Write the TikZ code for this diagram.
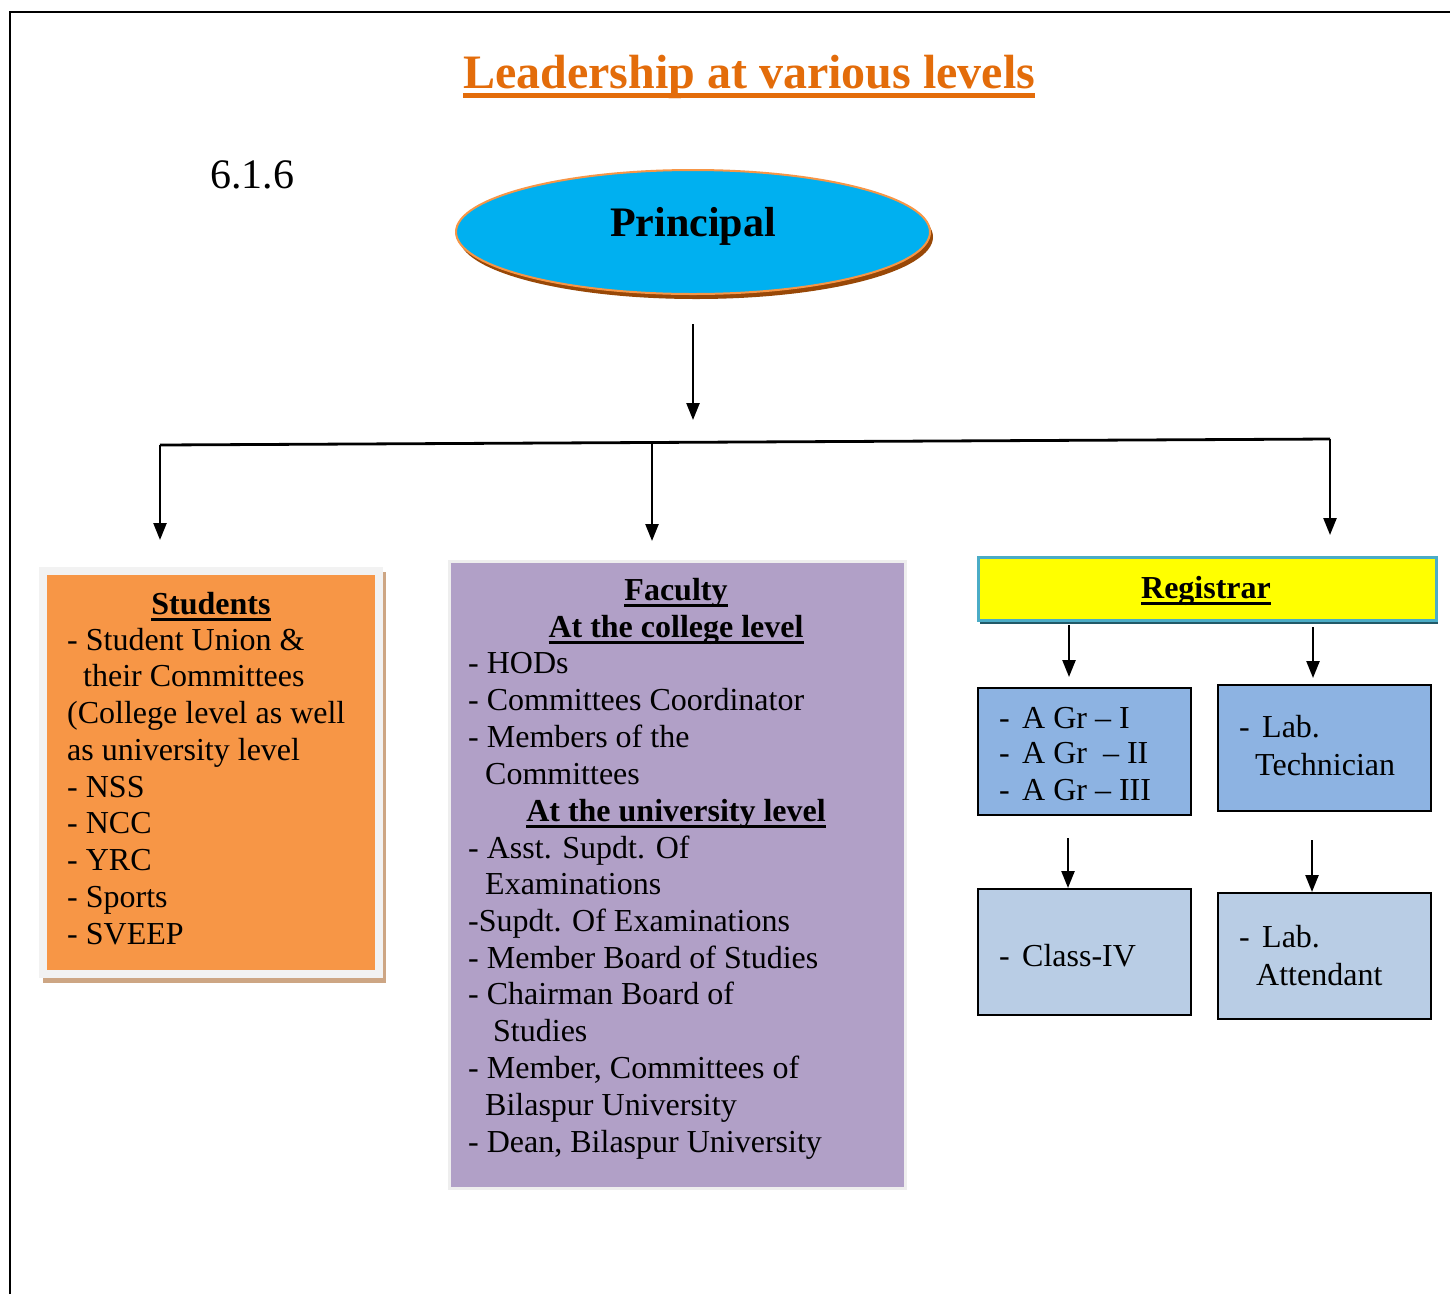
\documentclass[tikz,border=0pt]{standalone}
\usepackage{fontspec}
\setmainfont{Liberation Serif}
\usetikzlibrary{arrows.meta,shapes.geometric}
\definecolor{titleor}{HTML}{E36C0A}
\definecolor{princ}{HTML}{00B0F0}
\definecolor{prinbd}{HTML}{F79646}
\definecolor{prinsh}{HTML}{984807}
\definecolor{stuor}{HTML}{F79646}
\definecolor{stush}{HTML}{CDA684}
\definecolor{stuout}{HTML}{F2F2F2}
\definecolor{facp}{HTML}{B1A0C7}
\definecolor{facbd}{HTML}{EEEEEE}
\definecolor{regy}{HTML}{FFFF00}
\definecolor{regbd}{HTML}{4BACC6}
\definecolor{regsh}{HTML}{215968}
\definecolor{bluA}{HTML}{8DB3E2}
\definecolor{bluB}{HTML}{B9CDE5}
\newcommand\ulx[3]{\leavevmode\setbox0\hbox{#3}\rlap{\vrule height -#1 depth #2 width\wd0}\box0}
\begin{document}
\begin{tikzpicture}[x=1pt,y=-1pt,
  txt/.style={inner sep=0pt, anchor=base west, font=\fontsize{32}{37}\selectfont},
  hd/.style={inner sep=0pt, anchor=base, font=\fontsize{32}{37}\selectfont\bfseries},
  arr/.style={line width=2.4pt, -{Triangle[length=17pt,width=13pt]}},
  bus/.style={line width=2.8pt},
  boxA/.style={draw=black, line width=2pt, anchor=north west, inner sep=0pt, fill=bluA},
  boxB/.style={draw=black, line width=2pt, anchor=north west, inner sep=0pt, fill=bluB},
]
\useasboundingbox (0,0) rectangle (1450,1294);
\fill[white] (0,0) rectangle (1450,1294);
% page frame
\draw[line width=2.5pt] (10,1294) -- (10,12) -- (1450,12);

% title
\node[inner sep=0pt, anchor=base, font=\fontsize{48}{56}\selectfont\bfseries, text=titleor] (title) at (749,88) {\ulx{5pt}{10pt}{Leadership at various levels}};
\node[inner sep=0pt, anchor=base west, font=\fontsize{42}{48}\selectfont] (num) at (210,188) {6.1.6};

% principal
\fill[prinsh] (696,237) ellipse [x radius=237pt, y radius=62pt];
\node[ellipse, fill=princ, draw=prinbd, line width=2pt, minimum width=474pt, minimum height=124pt, inner sep=0pt] (prin) at (693,232) {};
\node[inner sep=0pt, anchor=base, font=\fontsize{42}{48}\selectfont\bfseries] (prinT) at (693,236) {Principal};

% bus
\coordinate (pt) at (693,420);
\coordinate (bl) at (160,445);
\coordinate (bm) at (652,443.5);
\coordinate (br) at (1330,439);

% students box
\fill[stush] (43,572) rectangle (386,983);
\node[anchor=north west, fill=stuout, minimum width=344pt, minimum height=411pt, inner sep=0pt] (stu) at (39,567) {};
\node[anchor=north west, fill=stuor, minimum width=328pt, minimum height=395pt, inner sep=0pt] (stuin) at (47,575) {};
\node[hd] (s0) at (211,614) {\ulx{4pt}{7pt}{Students}};
\node[txt] (s1) at (67,650) {- Student Union \&};
\node[txt] (s2) at (83,686) {their Committees};
\node[txt] (s3) at (67,723) {(College level as well};
\node[txt] (s4) at (67,760) {as university level};
\node[txt] (s5) at (67,797) {- NSS};
\node[txt] (s6) at (67,833) {- NCC};
\node[txt] (s7) at (67,870) {- YRC};
\node[txt] (s8) at (67,907) {- Sports};
\node[txt] (s9) at (67,944) {- SVEEP};

% faculty box
\node[anchor=north west, fill=facp, draw=facbd, line width=3pt, minimum width=456pt, minimum height=627pt, inner sep=0pt] (fac) at (448,560) {};
\node[hd] (f0) at (676,600) {\ulx{4pt}{7pt}{Faculty}};
\node[hd] (f1) at (676,637) {\ulx{4pt}{7pt}{At the college level}};
\node[txt] (f2) at (468,673) {- HODs};
\node[txt] (f3) at (468,710) {- Committees Coordinator};
\node[txt] (f4) at (468,747) {- Members of the};
\node[txt] (f5) at (485,784) {Committees};
\node[hd] (f6) at (676,821) {\ulx{4pt}{7pt}{At the university level}};
\node[txt] (f7) at (468,858) {- Asst. Supdt. Of};
\node[txt] (f8) at (485,894) {Examinations};
\node[txt] (f9) at (468,931) {-Supdt. Of Examinations};
\node[txt] (f10) at (468,968) {- Member Board of Studies};
\node[txt] (f11) at (468,1004) {- Chairman Board of};
\node[txt] (f12) at (493,1041) {Studies};
\node[txt] (f13) at (468,1078) {- Member, Committees of};
\node[txt] (f14) at (485,1115) {Bilaspur University};
\node[txt] (f15) at (468,1152) {- Dean, Bilaspur University};

% registrar
\fill[regsh] (980,561) rectangle (1438,624);
\node[anchor=north west, fill=regy, draw=regbd, line width=3pt, minimum width=458pt, minimum height=63pt, inner sep=0pt] (reg) at (977,556) {};
\node[hd] (regT) at (1206,598) {\ulx{4pt}{7pt}{Registrar}};

\node[boxA, minimum width=213pt, minimum height=127pt] (agr) at (977,687) {};
\node[txt] (a1) at (999,728) {-};
\node[txt] (a1b) at (1022,728) {A Gr – I};
\node[txt] (a2) at (999,763) {-};
\node[txt] (a2b) at (1022,763) {A Gr\ \ – II};
\node[txt] (a3) at (999,800) {-};
\node[txt] (a3b) at (1022,800) {A Gr – III};

\node[boxA, minimum width=213pt, minimum height=126pt] (lt) at (1217,684) {};
\node[txt] (l1) at (1239,737) {-};
\node[txt] (l1b) at (1262,737) {Lab.};
\node[txt] (l2) at (1255,775) {Technician};

\node[boxB, minimum width=213pt, minimum height=126pt] (c4) at (977,888) {};
\node[txt] (c1) at (999,966) {-};
\node[txt] (c1b) at (1022,966) {Class-IV};

\node[boxB, minimum width=213pt, minimum height=126pt] (la) at (1217,892) {};
\node[txt] (m1) at (1239,947) {-};
\node[txt] (m1b) at (1262,947) {Lab.};
\node[txt] (m2) at (1256,985) {Attendant};

% connectors
\draw[arr, shorten <=29pt] (prin.south) -- (pt);
\draw[bus] (bl) -- (br);
\draw[arr, shorten >=27pt] (bl) -- (bl |- stu.north);
\draw[arr, shorten >=19pt] (bm) -- (bm |- fac.north);
\draw[arr, shorten >=21pt] (br) -- (br |- reg.north);

\coordinate (ra) at (1069,625);
\coordinate (rb) at (1313,627);
\coordinate (ca) at (1068,838);
\coordinate (cb) at (1312,840);
\draw[arr, shorten >=10pt] (ra) -- (ra |- agr.north);
\draw[arr, shorten >=6pt] (rb) -- (rb |- lt.north);
\draw[arr] (ca) -- (ca |- c4.north);
\draw[arr] (cb) -- (cb |- la.north);
\end{tikzpicture}
\end{document}
